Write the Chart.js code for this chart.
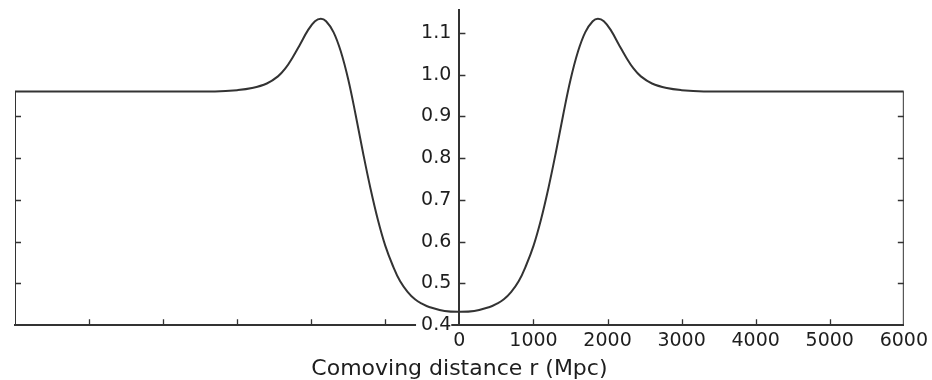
<!DOCTYPE html>
<html><head><meta charset="utf-8">
<script src="https://cdn.jsdelivr.net/npm/chart.js@4.4.0/dist/chart.umd.min.js"></script>
<style>html,body{margin:0;padding:0;background:#fff}#wrap{width:932px;height:380px;position:relative}</style>
</head><body><div id="wrap"><canvas id="c"></canvas></div>
<script>
// ---- data ----
const radius = [-6000,-5000,-4000,-3300,-3000,-2800,-2600,-2450,-2350,-2250,-2150,-2050,-1950,-1870,-1800,-1700,-1600,-1500,-1400,-1300,-1200,-1100,-1000,-900,-800,-700,-600,-500,-400,-200,
  0,200,400,500,600,700,800,900,1000,1100,1200,1300,1400,1500,1600,1700,1800,1870,1950,2050,2150,2250,2350,2450,2600,2800,3000,3300,4000,5000,6000];
const density = [0.960,0.960,0.960,0.960,0.963,0.968,0.979,0.996,1.015,1.042,1.073,1.105,1.128,1.134,1.128,1.102,1.055,0.988,0.903,0.812,0.727,0.652,0.590,0.543,0.505,0.480,0.462,0.451,0.443,0.434,
  0.432,0.434,0.443,0.451,0.462,0.480,0.505,0.543,0.590,0.652,0.727,0.812,0.903,0.988,1.055,1.102,1.128,1.134,1.128,1.105,1.073,1.042,1.015,0.996,0.979,0.968,0.963,0.960,0.960,0.960,0.960];
const leftEdge = [{x:-6000,y:0.4},{x:-6000,y:0.96}];
const rightEdge = [{x:6000,y:0.4},{x:6000,y:0.96}];
const xTickValues = [-6000,-5000,-4000,-3000,-2000,-1000,0,1000,2000,3000,4000,5000,6000];
const xTickLabels = ['','','','','','','0','1000','2000','3000','4000','5000','6000'];
const yTickValues = [0.4,0.5,0.6,0.7,0.8,0.9,1.0,1.1];
const yTickLabels = ['0.4','0.5','0.6','0.7','0.8','0.9','1.0','1.1'];
const edgeTickValues = [0.5,0.6,0.7,0.8,0.9];
const xRange = [-6000, 6000];
const yRange = [0.4, 1.155];
const xTitle = 'Comoving distance r (Mpc)';

const ink = '#333333';
const textInk = '#1e1e1e';
const font = 'DejaVu Sans';
const labelAxisAt = -110; // y tick labels sit just left of the r = 0 axis

const inwardTicks = {
  id: 'inwardTicks',
  afterDraw(chart) {
    const {ctx, scales: {x, y}} = chart;
    const len = 6;
    ctx.save();
    ctx.strokeStyle = ink; ctx.lineWidth = 1.3;
    ctx.beginPath();
    const x0 = x.getPixelForValue(0);
    const yb = y.getPixelForValue(yRange[0]);
    xTickValues.forEach(v => {
      if (v === xRange[0] || v === xRange[1] || v === 0) return;
      const px = Math.round(x.getPixelForValue(v)) + 0.5;
      ctx.moveTo(px, yb); ctx.lineTo(px, yb - len);
    });
    yTickValues.forEach(v => {
      if (v === yRange[0]) return;
      const py = Math.round(y.getPixelForValue(v)) + 0.5;
      ctx.moveTo(x0, py); ctx.lineTo(x0 + len, py);
    });
    const xl = x.getPixelForValue(xRange[0]), xr = x.getPixelForValue(xRange[1]);
    edgeTickValues.forEach(v => {
      const py = Math.round(y.getPixelForValue(v)) + 0.5;
      ctx.moveTo(xl, py); ctx.lineTo(xl + len, py);
      ctx.moveTo(xr, py); ctx.lineTo(xr - len, py);
    });
    ctx.stroke();
    ctx.restore();
  }
};

const noPad = s => { s.paddingTop = 0; s.paddingBottom = 0; s.paddingLeft = 0; s.paddingRight = 0; };

new Chart(document.getElementById('c'), {
  type: 'line',
  data: {
    datasets: [
      { data: radius.map((r, i) => ({x: r, y: density[i]})), borderColor: ink, borderWidth: 2, pointRadius: 0, tension: 0.4, fill: false, yAxisID: 'y' },
      { data: leftEdge, borderColor: ink, borderWidth: 2, pointRadius: 0, tension: 0, fill: false, yAxisID: 'y' },
      { data: rightEdge, borderColor: ink, borderWidth: 2, pointRadius: 0, tension: 0, fill: false, yAxisID: 'y' }
    ]
  },
  options: {
    responsive: true,
    maintainAspectRatio: false,
    animation: false,
    events: [],
    layout: { padding: { left: 15, right: 26, top: 10, bottom: 0 } },
    plugins: { legend: { display: false }, tooltip: { enabled: false } },
    scales: {
      x: {
        type: 'linear', min: xRange[0], max: xRange[1],
        afterBuildTicks: s => { s.ticks = xTickValues.map(v => ({value: v})); },
        grid: { display: false, drawTicks: false },
        border: { display: true, color: ink, width: 2 },
        ticks: {
          autoSkip: false, maxRotation: 0, padding: 4, color: textInk,
          font: { family: font, size: 19, lineHeight: 1.2 },
          callback: (v, i) => xTickLabels[i]
        },
        title: { display: true, text: xTitle, color: textInk, font: { family: font, size: 22, lineHeight: 1.0 }, padding: { top: 2, bottom: 0 } }
      },
      y: {
        type: 'linear', min: yRange[0], max: yRange[1],
        position: { x: 0 },
        afterFit: noPad,
        grid: { display: false, drawTicks: false },
        border: { display: true, color: ink, width: 2, z: 2 },
        ticks: { display: false }
      },
      yLabels: {
        type: 'linear', min: yRange[0], max: yRange[1],
        position: { x: labelAxisAt },
        afterFit: noPad,
        afterBuildTicks: s => { s.ticks = yTickValues.map(v => ({value: v})); },
        grid: { display: false, drawTicks: false },
        border: { display: false },
        ticks: {
          autoSkip: false, padding: 0, color: textInk, z: 1,
          font: { family: font, size: 19 },
          showLabelBackdrop: true, backdropColor: '#ffffff', backdropPadding: { left: 5, right: 0, top: 0, bottom: 0 },
          callback: (v, i) => yTickLabels[i]
        }
      }
    }
  },
  plugins: [inwardTicks]
});
</script>
</body></html>
